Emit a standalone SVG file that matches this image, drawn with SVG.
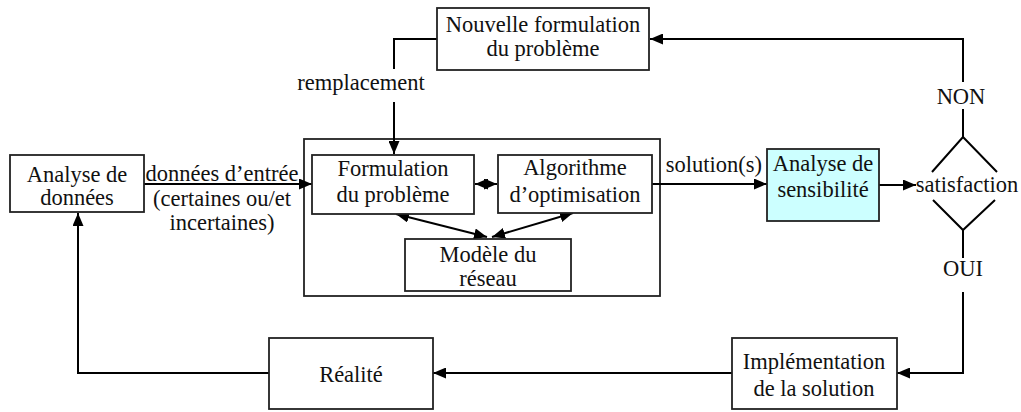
<svg xmlns="http://www.w3.org/2000/svg" width="1021" height="412" viewBox="0 0 1021 412">
<defs>
<marker id="ah" viewBox="0 0 13 11" refX="13" refY="5.5" markerWidth="13" markerHeight="11" markerUnits="userSpaceOnUse" orient="auto-start-reverse">
<path d="M0,0 L13,5.5 L0,11 z" fill="#000"/>
</marker>
</defs>
<style>
.box{fill:#fff;stroke:#222;stroke-width:1.8}
.cyan{fill:#ccffff}
.ln{fill:none;stroke:#000;stroke-width:2}
text{font-size:22.5px;fill:#111;text-anchor:middle}
</style>
<rect width="1021" height="412" fill="#fff"/>

<g id="outer"><rect class="box" x="304" y="139" width="356" height="157"/></g>

<g id="connectors">
<polyline class="ln" points="437,39 394,39 394,69"/>
<line class="ln" x1="394" y1="102" x2="394" y2="154" marker-end="url(#ah)"/>
<polyline class="ln" points="963,82 963,39 650,39" marker-end="url(#ah)"/>
<line class="ln" x1="963" y1="109" x2="963" y2="137"/>
<line class="ln" x1="144" y1="184" x2="312" y2="184" marker-end="url(#ah)"/>
<line class="ln" x1="475" y1="184" x2="497" y2="184" marker-start="url(#ah)" marker-end="url(#ah)"/>
<line class="ln" x1="396" y1="214" x2="487" y2="237" marker-start="url(#ah)" marker-end="url(#ah)"/>
<line class="ln" x1="492" y1="237" x2="573" y2="213" marker-start="url(#ah)" marker-end="url(#ah)"/>
<line class="ln" x1="652" y1="184" x2="767" y2="184" marker-end="url(#ah)"/>
<line class="ln" x1="879" y1="185" x2="916" y2="185" marker-end="url(#ah)"/>
<line class="ln" x1="963" y1="230" x2="963" y2="258"/>
<polyline class="ln" points="963,292 963,373 897,373" marker-end="url(#ah)"/>
<line class="ln" x1="732" y1="373" x2="433" y2="373" marker-end="url(#ah)"/>
<polyline class="ln" points="269,373 78,373 78,213" marker-end="url(#ah)"/>
</g>

<g font-family="'Liberation Serif', 'Times New Roman', 'DejaVu Serif', serif">
<g id="nouvelle"><rect class="box" x="437" y="8" width="212" height="62"/>
<text x="543" y="32">Nouvelle formulation</text><text x="543" y="56">du problème</text></g>

<g id="remplacement-label"><text x="361" y="90">remplacement</text></g>

<g id="analyse-donnees"><rect class="box" x="10" y="155" width="134" height="57"/>
<text x="77" y="182">Analyse de</text><text x="77" y="205">données</text></g>

<g id="donnees-label"><text x="222" y="181">données d’entrée</text><text x="222" y="206">(certaines ou/et</text><text x="222" y="230">incertaines)</text></g>

<g id="formulation"><rect class="box" x="312" y="155" width="162" height="59"/>
<text x="393" y="176">Formulation</text><text x="393" y="202">du problème</text></g>

<g id="algorithme"><rect class="box" x="498" y="155" width="154" height="58"/>
<text x="575" y="175">Algorithme</text><text x="575" y="202">d’optimisation</text></g>

<g id="modele"><rect class="box" x="405" y="239" width="166" height="52"/>
<text x="488" y="262">Modèle du</text><text x="488" y="286">réseau</text></g>

<g id="solution-label"><text x="714" y="172">solution(s)</text></g>

<g id="sensibilite"><rect class="box cyan" x="767" y="149" width="112" height="72"/>
<text x="823" y="171">Analyse de</text><text x="823" y="197">sensibilité</text></g>

<g id="satisfaction">
<polyline class="ln" points="932,172 963,137 997,172"/>
<polyline class="ln" points="933,200 963,230 995,200"/>
<text x="967" y="192">satisfaction</text></g>

<g id="non-label"><text x="961" y="104">NON</text></g>
<g id="oui-label"><text x="963" y="276">OUI</text></g>

<g id="implementation"><rect class="box" x="732" y="338" width="165" height="71"/>
<text x="814" y="369">Implémentation</text><text x="814" y="396">de la solution</text></g>

<g id="realite"><rect class="box" x="269" y="338" width="164" height="71"/>
<text x="351" y="382">Réalité</text></g>
</g>
</svg>
